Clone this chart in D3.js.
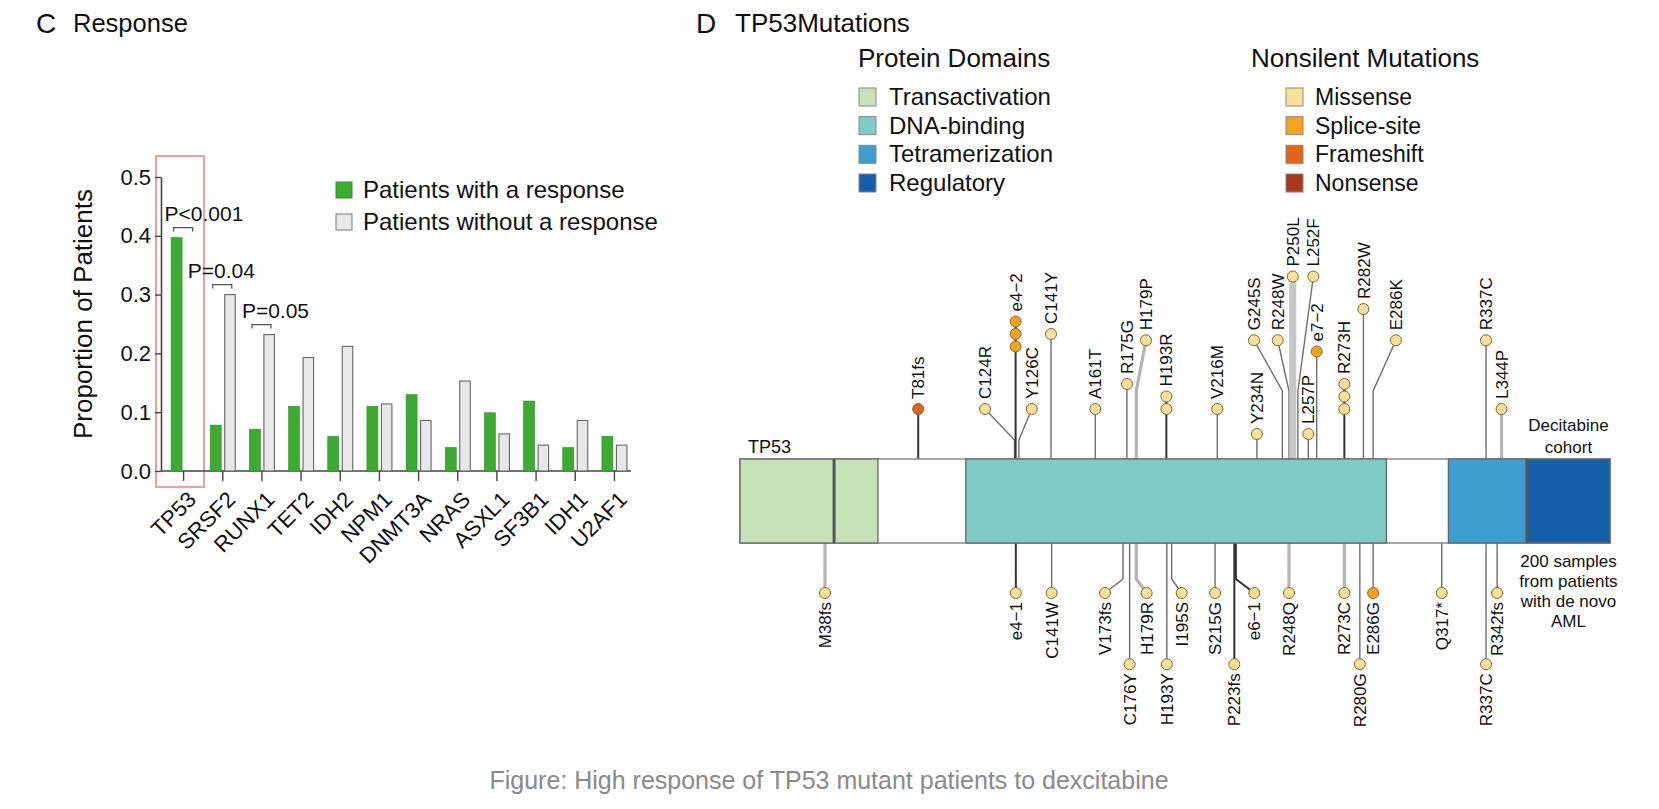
<!DOCTYPE html>
<html><head><meta charset="utf-8">
<script src="https://cdn.jsdelivr.net/npm/d3@7"></script>
<style>
html,body{margin:0;padding:0;background:#fff;}
svg text{font-family:"Liberation Sans",Arial,Helvetica,sans-serif;}
</style></head><body>
<svg id="chart" width="1659" height="809"></svg>
<script>
// ================= Panel C data =================
const genes = ["TP53","SRSF2","RUNX1","TET2","IDH2","NPM1","DNMT3A","NRAS","ASXL1","SF3B1","IDH1","U2AF1"];
const responders    = [0.397,0.078,0.071,0.110,0.059,0.110,0.130,0.040,0.099,0.119,0.040,0.059];
const nonResponders = [0.000,0.300,0.232,0.193,0.212,0.114,0.086,0.153,0.063,0.044,0.086,0.044];
const yTicks = [0,0.1,0.2,0.3,0.4,0.5];
const yTitle = "Proportion of Patients";
const seriesNames = ["Patients with a response","Patients without a response"];
const pValueGenes  = ["TP53","SRSF2","RUNX1"];
const pValueLabels = ["P<0.001","P=0.04","P=0.05"];

// ================= Panel D data =================
const proteinLength = 393;
const domainTypes  = ["Transactivation","Transactivation","DNA-binding","Tetramerization","Regulatory"];
const domainStarts = [0, 42.5, 102, 320, 355.5];
const domainEnds   = [42.5, 62.3, 292, 355.5, 393];
const domainLegend = ["Transactivation","DNA-binding","Tetramerization","Regulatory"];
const mutationLegend = ["Missense","Splice-site","Frameshift","Nonsense"];

// decitabine cohort (above the protein): label, residue, type, count, head lane (residue), stem level
const cohortTop = [
  {label:"T81fs", aa:81,  type:"Frameshift", n:1, lane:80.5,  stem:4},
  {label:"C124R", aa:124, type:"Missense",   n:1, lane:110.7, stem:4},
  {label:"e4\u22122", aa:125, type:"Splice-site", n:3, lane:124.5, stem:9},
  {label:"Y126C", aa:126, type:"Missense",   n:1, lane:131.8, stem:4},
  {label:"C141Y", aa:141, type:"Missense",   n:1, lane:140.5, stem:10},
  {label:"A161T", aa:161, type:"Missense",   n:1, lane:160.5, stem:4},
  {label:"R175G", aa:175, type:"Missense",   n:1, lane:174.8, stem:6},
  {label:"H179P", aa:179, type:"Missense",   n:1, lane:183.4, stem:9.5},
  {label:"H193R", aa:193, type:"Missense",   n:2, lane:192.6, stem:4},
  {label:"V216M", aa:216, type:"Missense",   n:1, lane:215.6, stem:4},
  {label:"Y234N", aa:234, type:"Missense",   n:1, lane:233.5, stem:2},
  {label:"G245S", aa:245, type:"Missense",   n:1, lane:232.2, stem:9.5},
  {label:"R248W", aa:248, type:"Missense",   n:1, lane:242.9, stem:9.5},
  {label:"P250L", aa:250, type:"Missense",   n:1, lane:249.7, stem:14.6},
  {label:"L252F", aa:252, type:"Missense",   n:1, lane:259.0, stem:14.6},
  {label:"L257P", aa:257, type:"Missense",   n:1, lane:256.7, stem:2},
  {label:"e7\u22122", aa:261, type:"Splice-site", n:1, lane:260.5, stem:8.6},
  {label:"R273H", aa:273, type:"Missense",   n:3, lane:273.0, stem:4},
  {label:"R282W", aa:282, type:"Missense",   n:1, lane:281.6, stem:12},
  {label:"E286K", aa:286, type:"Missense",   n:1, lane:296.3, stem:9.5},
  {label:"R337C", aa:337, type:"Missense",   n:1, lane:337.0, stem:9.5},
  {label:"L344P", aa:344, type:"Missense",   n:1, lane:344.0, stem:4}
];
// de novo AML cohort (below the protein)
const cohortBottom = [
  {label:"M38fs",  aa:38,  type:"Missense", n:1, lane:38.4,  stem:4},
  {label:"e4\u22121", aa:125, type:"Missense", n:1, lane:124.6, stem:4},
  {label:"C141W",  aa:141, type:"Missense", n:1, lane:140.8, stem:4},
  {label:"V173fs", aa:173, type:"Missense", n:1, lane:164.9, stem:4},
  {label:"C176Y",  aa:176, type:"Missense", n:1, lane:176.0, stem:9.7},
  {label:"H179R",  aa:179, type:"Missense", n:1, lane:183.7, stem:4},
  {label:"H193Y",  aa:193, type:"Missense", n:1, lane:192.8, stem:9.7},
  {label:"I195S",  aa:195, type:"Missense", n:1, lane:199.5, stem:4},
  {label:"S215G",  aa:215, type:"Missense", n:1, lane:214.6, stem:4},
  {label:"P223fs", aa:223, type:"Missense", n:1, lane:223.3, stem:9.7},
  {label:"e6\u22121", aa:224, type:"Missense", n:1, lane:232.3, stem:4},
  {label:"R248Q",  aa:248, type:"Missense", n:1, lane:248.0, stem:4},
  {label:"R273C",  aa:273, type:"Missense", n:1, lane:273.0, stem:4},
  {label:"R280G",  aa:280, type:"Missense", n:1, lane:280.0, stem:9.7},
  {label:"E286G",  aa:286, type:"Splice-site", n:1, lane:286.0, stem:4},
  {label:"Q317*",  aa:317, type:"Missense", n:1, lane:317.0, stem:4},
  {label:"R337C",  aa:337, type:"Missense", n:1, lane:337.0, stem:9.7},
  {label:"R342fs", aa:342, type:"Missense", n:1, lane:342.0, stem:4}
];
const lightStems = ["H179P","L344P","M38fs","H179R","R248Q","R273C"];
const heavyStems = ["P250L"];
const darkStems  = ["e4\u22122","H193R","R273H","T81fs","e4\u22121","P223fs","e6\u22121"];
const cohortNotes = [["Decitabine","cohort"],["200 samples","from patients","with de novo","AML"]];
const caption = "Figure: High response of TP53 mutant patients to dexcitabine";

// ================= Drawing =================
const svg = d3.select("#chart");
svg.append("rect").attr("width",1659).attr("height",809).attr("fill","#fff");

// ---------- Panel C ----------
const gC = svg.append("g");
gC.append("text").attr("x",36).attr("y",33).attr("font-size",28).attr("fill","#111").text("C");
gC.append("text").attr("x",73).attr("y",32).attr("font-size",25.5).attr("fill","#111").text("Response");

const xB = d3.scaleBand().domain(genes).range([164,634]);
const yC = d3.scaleLinear().domain([0,0.5]).range([471,177]);
const cx = g => xB(g) + xB.bandwidth()/2;

// red highlight around TP53
gC.append("rect").attr("x",xB("TP53")-8).attr("y",yC(0.5)-21)
  .attr("width",48).attr("height",yC(0)-yC(0.5)+37)
  .attr("fill","none").attr("stroke","#f08585").attr("stroke-width",1.6);

const axisCol = "#444";
const yAxis = gC.append("g").attr("transform","translate(161,0)")
  .call(d3.axisLeft(yC).tickValues(yTicks).tickFormat(d3.format(".1f")).tickSize(6).tickSizeOuter(0).tickPadding(4));
yAxis.select(".domain").attr("stroke",axisCol).attr("stroke-width",1.6);
yAxis.selectAll(".tick line").attr("stroke",axisCol).attr("stroke-width",1.4);
yAxis.selectAll(".tick text").attr("font-size",22).attr("fill","#111").attr("font-family",'"Liberation Sans",Arial,sans-serif');

gC.append("text").attr("transform",`translate(92,${(yC(0)+yC(0.5))/2 - 10}) rotate(-90)`)
  .attr("text-anchor","middle").attr("font-size",26).attr("fill","#111").text(yTitle);

// x axis line and ticks
gC.append("line").attr("x1",161).attr("x2",631).attr("y1",yC(0)).attr("y2",yC(0)).attr("stroke",axisCol).attr("stroke-width",1.6);
gC.selectAll(".xt").data(genes).enter().append("line")
  .attr("x1",cx).attr("x2",cx).attr("y1",yC(0)).attr("y2",yC(0)+10)
  .attr("stroke",axisCol).attr("stroke-width",1.4);
gC.selectAll(".xl").data(genes).enter().append("text")
  .attr("transform",g=>`translate(${cx(g)+3},${yC(0)+19}) rotate(-45)`)
  .attr("text-anchor","end").attr("dy","0.7em").attr("font-size",22).attr("fill","#111").text(g=>g);

// bars
gC.selectAll(".bg").data(genes).enter().append("rect")
  .attr("x",g=>cx(g)-12.5).attr("width",11)
  .attr("y",(g,i)=>yC(responders[i])).attr("height",(g,i)=>yC(0)-yC(responders[i]))
  .attr("fill","#3dab32").attr("stroke","#2e8f27").attr("stroke-width",0.6);
gC.selectAll(".bn").data(genes).enter().filter((g,i)=>nonResponders[i]>0).append("rect")
  .attr("x",g=>cx(g)+2).attr("width",10.5)
  .attr("y",g=>yC(nonResponders[genes.indexOf(g)])).attr("height",g=>yC(0)-yC(nonResponders[genes.indexOf(g)]))
  .attr("fill","#e8e8e8").attr("stroke","#666").attr("stroke-width",1.1);

// p-value brackets
const pTextDx = [-19,-35,-20];
pValueGenes.forEach((g,k)=>{
  const i = genes.indexOf(g);
  const top = yC(Math.max(responders[i],nonResponders[i])) - 10;
  const c = cx(g);
  gC.append("path").attr("d",`M${c-10},${top+4}V${top}H${c+9}V${top+4}`)
    .attr("fill","none").attr("stroke","#555").attr("stroke-width",1.3);
  gC.append("text").attr("x",c+pTextDx[k]).attr("y",top-7).attr("font-size",21).attr("fill","#111").text(pValueLabels[k]);
});

// legend C
const legC = gC.append("g").attr("transform","translate(336,182)");
seriesNames.forEach((s,i)=>{
  legC.append("rect").attr("x",0).attr("y",i*32).attr("width",16).attr("height",16)
    .attr("fill",i===0?"#3dab32":"#e8e8e8").attr("stroke",i===0?"#2e8f27":"#777").attr("stroke-width",1);
  legC.append("text").attr("x",27).attr("y",i*32+16).attr("font-size",24).attr("fill","#111").text(s);
});

// ---------- Panel D ----------
const gD = svg.append("g");
gD.append("text").attr("x",696).attr("y",33).attr("font-size",28).attr("fill","#111").text("D");
gD.append("text").attr("x",735).attr("y",32).attr("font-size",26).attr("fill","#111").text("TP53Mutations");

const domainColor = d3.scaleOrdinal().domain(domainLegend).range(["#c5e3b6","#80cbc3","#3d9fd0","#135fa9"]);
const mutColor = d3.scaleOrdinal().domain(mutationLegend).range(["#fde095","#f6a21d","#e0661a","#a8391b"]);

// legends D
gD.append("text").attr("x",858).attr("y",67).attr("font-size",26).attr("fill","#111").text("Protein Domains");
gD.append("text").attr("x",1251).attr("y",67).attr("font-size",26).attr("fill","#111").text("Nonsilent Mutations");
const rowY = d3.scaleLinear().domain([0,3]).range([97,183]);
domainLegend.forEach((d,i)=>{
  gD.append("rect").attr("x",859).attr("y",rowY(i)-9).attr("width",17).attr("height",18)
    .attr("fill",domainColor(d)).attr("stroke","#888").attr("stroke-width",1);
  gD.append("text").attr("x",889).attr("y",rowY(i)+8).attr("font-size",24).attr("fill","#111").text(d);
});
mutationLegend.forEach((d,i)=>{
  gD.append("rect").attr("x",1286).attr("y",rowY(i)-9).attr("width",17).attr("height",18)
    .attr("fill",mutColor(d)).attr("stroke","#888").attr("stroke-width",1);
  gD.append("text").attr("x",1315).attr("y",rowY(i)+8).attr("font-size",23).attr("fill","#111").text(d);
});

// protein scale
const xP = d3.scaleLinear().domain([0,proteinLength]).range([740,1610]);
const barTop = 459, barBot = 543;
const stemPx = d3.scaleLinear().domain([0,1]).range([0,12.5]);

function stemStyle(d){
  if (heavyStems.includes(d.label)) return {c:"#c6c6c6",w:7};
  if (lightStems.includes(d.label)) return {c:"#b4b4b4",w:3.2};
  if (darkStems.includes(d.label))  return {c:"#333",w:2};
  return {c:"#6e6e6e",w:1.4};
}
function topHeadY(d,k){ return barTop - stemPx(d.stem + k); }
function botHeadY(d){ return barBot + stemPx(d.stem); }

const stemsG = gD.append("g");
cohortTop.forEach(d=>{
  const xa = xP(d.aa), xh = xP(d.lane), yh = topHeadY(d,d.n-1), y0 = topHeadY(d,0);
  const s = stemStyle(d);
  let path;
  if (Math.abs(xa-xh) < 2.5) path = `M${xh},${barTop}V${yh}`;
  else {
    const elbow = Math.min(barTop-19, Math.max(y0+33, barTop-68));
    path = `M${xa},${barTop}V${elbow}L${xh},${y0}V${yh}`;
  }
  stemsG.append("path").attr("d",path).attr("fill","none").attr("stroke",s.c).attr("stroke-width",s.w);
});
cohortBottom.forEach(d=>{
  const xa = xP(d.aa), xh = xP(d.lane), yh = botHeadY(d);
  const s = stemStyle(d);
  let path;
  if (Math.abs(xa-xh) < 2.5) path = `M${xh},${barBot}V${yh}`;
  else path = `M${xa},${barBot}V${yh-14}L${xh},${yh}`;
  stemsG.append("path").attr("d",path).attr("fill","none").attr("stroke",s.c).attr("stroke-width",s.w);
});

// protein bar
gD.append("rect").attr("x",xP(0)).attr("y",barTop).attr("width",xP(proteinLength)-xP(0)).attr("height",barBot-barTop)
  .attr("fill","#fff").attr("stroke","#8a8a8a").attr("stroke-width",1.5);
domainTypes.forEach((t,i)=>{
  gD.append("rect").attr("x",xP(domainStarts[i])).attr("y",barTop)
    .attr("width",xP(domainEnds[i])-xP(domainStarts[i])).attr("height",barBot-barTop)
    .attr("fill",domainColor(t)).attr("stroke","#666").attr("stroke-width",1.3);
});
domainTypes.forEach((t,i)=>{
  if (i>0 && Math.abs(domainStarts[i]-domainEnds[i-1])<0.01){
    gD.append("line").attr("x1",xP(domainStarts[i])).attr("x2",xP(domainStarts[i]))
      .attr("y1",barTop).attr("y2",barBot).attr("stroke","#555").attr("stroke-width",3);
  }
});
gD.append("text").attr("x",xP(0)+8).attr("y",barTop-6).attr("font-size",18).attr("fill","#111").text("TP53");

// heads and labels
const headG = gD.append("g");
cohortTop.forEach(d=>{
  for (let k=0;k<d.n;k++){
    headG.append("circle").attr("cx",xP(d.lane)).attr("cy",topHeadY(d,k)).attr("r",5.5)
      .attr("fill",mutColor(d.type)).attr("stroke","#7d6b3e").attr("stroke-width",1);
  }
  const yt = topHeadY(d,d.n-1) - 10;
  headG.append("text").attr("transform",`translate(${xP(d.lane)},${yt}) rotate(-90)`)
    .attr("dy","0.36em").attr("text-anchor","start").attr("font-size",17).attr("fill","#111").text(d.label);
});
cohortBottom.forEach(d=>{
  const yh = botHeadY(d);
  headG.append("circle").attr("cx",xP(d.lane)).attr("cy",yh).attr("r",5.5)
    .attr("fill",mutColor(d.type)).attr("stroke","#7d6b3e").attr("stroke-width",1);
  headG.append("text").attr("transform",`translate(${xP(d.lane)},${yh+9}) rotate(-90)`)
    .attr("dy","0.36em").attr("text-anchor","end").attr("font-size",17).attr("fill","#111").text(d.label);
});

// cohort notes
const noteX = (xP(355.5)+xP(393))/2;
cohortNotes[0].forEach((t,i)=>{
  gD.append("text").attr("x",noteX).attr("y",431+i*22).attr("text-anchor","middle").attr("font-size",17).attr("fill","#111").text(t);
});
cohortNotes[1].forEach((t,i)=>{
  gD.append("text").attr("x",noteX).attr("y",567+i*20).attr("text-anchor","middle").attr("font-size",17).attr("fill","#111").text(t);
});

// caption
svg.append("text").attr("x",829).attr("y",789).attr("text-anchor","middle").attr("font-size",25).attr("fill","#8a8a8a").text(caption);
</script>
</body></html>
